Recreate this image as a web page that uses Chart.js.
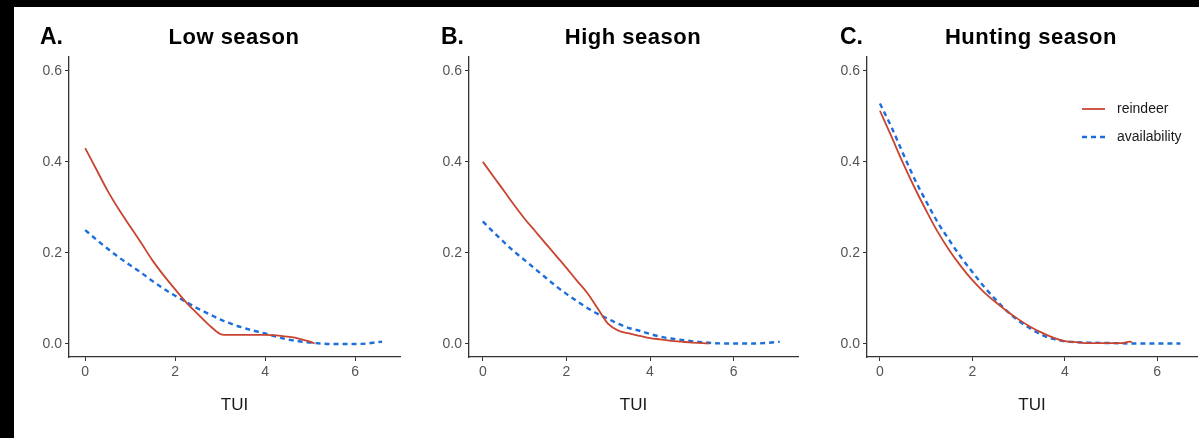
<!DOCTYPE html>
<html>
<head>
<meta charset="utf-8">
<script src="https://cdn.jsdelivr.net/npm/chart.js@4.4.1/dist/chart.umd.min.js"></script>
<style>
body{margin:0;background:#000;width:1199px;height:438px;overflow:hidden;position:relative;font-family:"Liberation Sans",Arial,sans-serif}
#sheet{position:absolute;left:14px;top:7px;width:1185px;height:431px;background:#fff}
canvas{position:absolute;top:7px}
.letter{position:absolute;top:25px;font-weight:bold;font-size:23px;line-height:23px;color:#000}
.title{position:absolute;top:26px;width:300px;text-align:center;font-weight:bold;font-size:22px;line-height:22px;letter-spacing:0.5px;color:#000}
</style>
</head>
<body>
<div id="sheet"></div>
<canvas id="lowChart" width="390" height="431" style="left:14px"></canvas>
<canvas id="highChart" width="396" height="431" style="left:404px"></canvas>
<canvas id="huntChart" width="399" height="431" style="left:800px"></canvas>
<div class="letter" style="left:40px">A.</div>
<div class="letter" style="left:441px">B.</div>
<div class="letter" style="left:840px">C.</div>
<div class="title" style="left:84px">Low season</div>
<div class="title" style="left:483px">High season</div>
<div class="title" style="left:881px">Hunting season</div>
<script>
// Low season
const lowReindeerX = [0,0.25,0.5,0.75,1,1.25,1.5,1.75,2,2.25,2.5,2.75,3,3.1,3.5,3.75,4,4.25,4.5,4.75,5,5.1];
const lowReindeer  = [0.430,0.383,0.336,0.295,0.258,0.221,0.183,0.150,0.120,0.091,0.066,0.042,0.022,0.020,0.020,0.020,0.020,0.019,0.016,0.012,0.005,0.001];
const lowAvailX = [0,0.25,0.5,0.75,1,1.25,1.5,1.75,2,2.25,2.5,2.75,3,3.25,3.5,3.75,4,4.25,4.5,4.75,5,5.25,5.5,6,6.25,6.5,6.6];
const lowAvail  = [0.250,0.229,0.209,0.190,0.173,0.156,0.138,0.121,0.106,0.092,0.078,0.066,0.054,0.044,0.036,0.029,0.023,0.016,0.010,0.006,0.003,0.001,0.000,0.000,0.001,0.004,0.005];

// High season
const highReindeerX = [0,0.25,0.5,0.75,1,1.25,1.5,1.75,2,2.25,2.5,2.75,3,3.25,3.5,3.75,4,4.25,4.5,4.75,5,5.25,5.4];
const highReindeer  = [0.400,0.368,0.337,0.305,0.275,0.248,0.221,0.194,0.167,0.139,0.112,0.078,0.044,0.029,0.023,0.018,0.013,0.010,0.007,0.005,0.003,0.002,0.001];
const highAvailX = [0,0.25,0.5,0.75,1,1.25,1.5,1.75,2,2.25,2.5,2.75,3,3.25,3.5,3.75,4,4.25,4.5,4.75,5,5.25,5.5,6,6.5,6.75,7,7.1];
const highAvail  = [0.269,0.246,0.224,0.203,0.184,0.165,0.146,0.127,0.110,0.094,0.079,0.066,0.055,0.044,0.035,0.029,0.022,0.016,0.012,0.009,0.006,0.004,0.002,0.001,0.001,0.002,0.004,0.005];

// Hunting season
const huntReindeerX = [0,0.25,0.5,0.75,1,1.25,1.5,1.75,2,2.25,2.5,2.75,3,3.25,3.5,3.75,4,4.25,4.5,4.75,5,5.25,5.4,5.45];
const huntReindeer  = [0.512,0.455,0.397,0.343,0.293,0.246,0.206,0.171,0.140,0.114,0.092,0.072,0.054,0.038,0.025,0.014,0.006,0.004,0.002,0.002,0.002,0.002,0.005,0.004];
const huntAvailX = [0,0.25,0.5,0.75,1,1.25,1.5,1.75,2,2.25,2.5,2.75,3,3.25,3.5,3.75,4,4.5,5,5.5,6,6.5];
const huntAvail  = [0.528,0.476,0.418,0.362,0.313,0.267,0.228,0.191,0.158,0.126,0.098,0.072,0.051,0.034,0.020,0.011,0.006,0.003,0.002,0.001,0.001,0.001];

const yTicks = [0,0.2,0.4,0.6];
const xTicks = [0,2,4,6];
const seriesNames = ["reindeer","availability"];

const red = "#c94430";
const blue = "#1c6fdb";

Chart.defaults.font.family = '"Liberation Sans", Arial, sans-serif';

function toPoints(xs, ys){
    return xs.map((x,i)=>({x:x, y:ys[i]}));
}

const insideLegend = {
    id:"insideLegend",
    afterDraw(chart){
        const ctx = chart.ctx;
        const a = chart.chartArea;
        ctx.save();
        chart.data.datasets.forEach((ds,i)=>{
            const y = a.top + 52 + i*28;
            ctx.strokeStyle = ds.borderColor;
            ctx.lineWidth = ds.borderWidth;
            ctx.setLineDash(ds.borderDash || []);
            ctx.beginPath();
            ctx.moveTo(a.left + 215, y);
            ctx.lineTo(a.left + 238, y);
            ctx.stroke();
            ctx.setLineDash([]);
            ctx.fillStyle = "#1a1a1a";
            ctx.font = '14px "Liberation Sans", Arial, sans-serif';
            ctx.textBaseline = "middle";
            ctx.fillText(ds.label, a.left + 250, y);
        });
        ctx.restore();
    }
};

function makePanel(canvasID, rX, rY, aX, aY, xMin, xMax, yWidth, padRight, withLegend){
    new Chart(document.getElementById(canvasID),{
        type:"line",
        data:{
            datasets:[
                {label:seriesNames[0], data:toPoints(rX,rY), borderColor:red, borderWidth:1.8,
                 pointRadius:0, cubicInterpolationMode:"monotone", fill:false},
                {label:seriesNames[1], data:toPoints(aX,aY), borderColor:blue, borderWidth:2.4,
                 borderDash:[5,4], pointRadius:0, cubicInterpolationMode:"monotone", fill:false}
            ]
        },
        options:{
            responsive:false,
            animation:false,
            layout:{padding:{top:50, right:padRight, left:0, bottom:0}},
            plugins:{legend:{display:false}, tooltip:{enabled:false}},
            scales:{
                x:{
                    type:"linear", min:xMin, max:xMax,
                    afterBuildTicks: s => { s.ticks = xTicks.map(v=>({value:v})); },
                    afterFit: s => { s.height = 81; },
                    grid:{display:true, drawOnChartArea:false, drawTicks:true, tickLength:4, color:"#333"},
                    border:{display:true, color:"#333", width:1.3},
                    ticks:{color:"#555", font:{size:14}, padding:3},
                    title:{display:true, text:"TUI", color:"#1a1a1a", font:{size:17}, padding:{top:0, bottom:22}}
                },
                y:{
                    type:"linear", min:-0.0286, max:0.63,
                    afterBuildTicks: s => { s.ticks = yTicks.map(v=>({value:v})); },
                    afterFit: s => { s.width = yWidth; },
                    grid:{display:true, drawOnChartArea:false, drawTicks:true, tickLength:4, color:"#333"},
                    border:{display:true, color:"#333", width:1.3},
                    ticks:{color:"#555", font:{size:14}, padding:3, callback: v => v.toFixed(1)}
                }
            }
        },
        plugins: withLegend ? [insideLegend] : []
    });
}

makePanel("lowChart", lowReindeerX, lowReindeer, lowAvailX, lowAvail, -0.36, 7.0, 55, 4, false);
makePanel("highChart", highReindeerX, highReindeer, highAvailX, highAvail, -0.33, 7.54, 65, 2, false);
makePanel("huntChart", huntReindeerX, huntReindeer, huntAvailX, huntAvail, -0.28, 6.86, 67, 2, true);
</script>
</body>
</html>
